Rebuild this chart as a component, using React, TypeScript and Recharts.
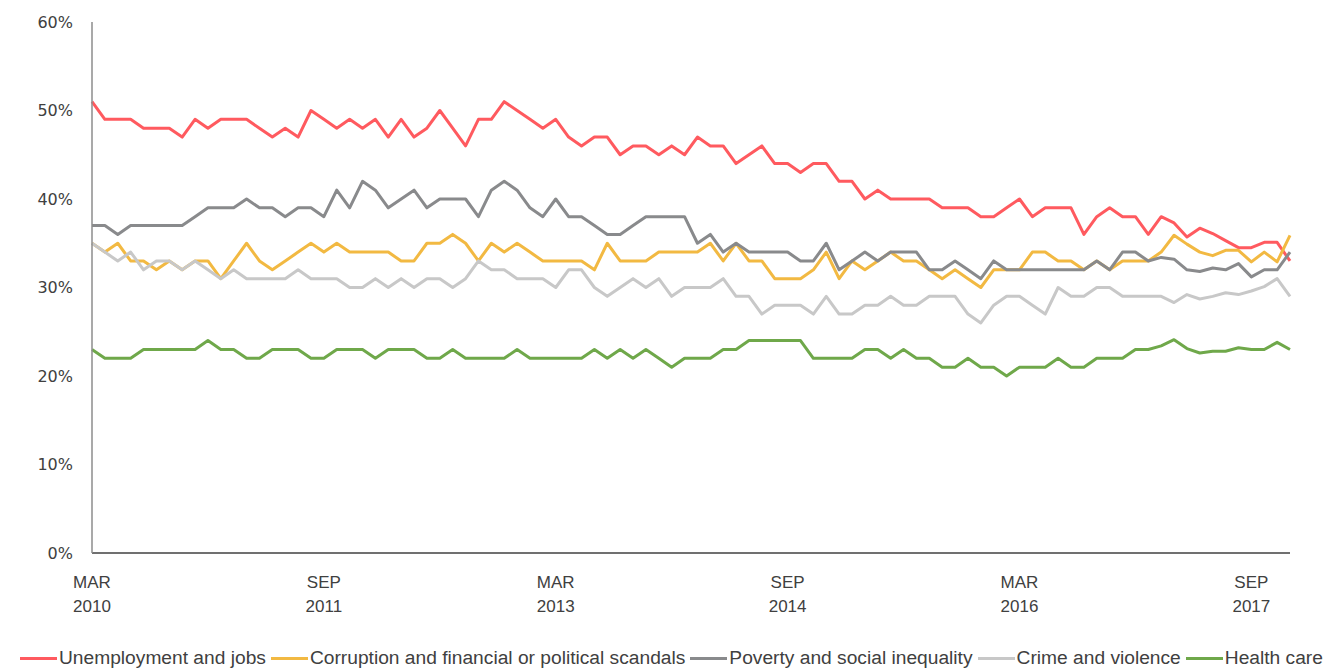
import React from "react";
import { LineChart, Line, XAxis, YAxis, Legend } from "recharts";

const months = [
  "Mar 2010","Apr 2010","May 2010","Jun 2010","Jul 2010","Aug 2010","Sep 2010","Oct 2010","Nov 2010","Dec 2010",
  "Jan 2011","Feb 2011","Mar 2011","Apr 2011","May 2011","Jun 2011","Jul 2011","Aug 2011","Sep 2011","Oct 2011","Nov 2011","Dec 2011",
  "Jan 2012","Feb 2012","Mar 2012","Apr 2012","May 2012","Jun 2012","Jul 2012","Aug 2012","Sep 2012","Oct 2012","Nov 2012","Dec 2012",
  "Jan 2013","Feb 2013","Mar 2013","Apr 2013","May 2013","Jun 2013","Jul 2013","Aug 2013","Sep 2013","Oct 2013","Nov 2013","Dec 2013",
  "Jan 2014","Feb 2014","Mar 2014","Apr 2014","May 2014","Jun 2014","Jul 2014","Aug 2014","Sep 2014","Oct 2014","Nov 2014","Dec 2014",
  "Jan 2015","Feb 2015","Mar 2015","Apr 2015","May 2015","Jun 2015","Jul 2015","Aug 2015","Sep 2015","Oct 2015","Nov 2015","Dec 2015",
  "Jan 2016","Feb 2016","Mar 2016","Apr 2016","May 2016","Jun 2016","Jul 2016","Aug 2016","Sep 2016","Oct 2016","Nov 2016","Dec 2016",
  "Jan 2017","Feb 2017","Mar 2017","Apr 2017","May 2017","Jun 2017","Jul 2017","Aug 2017","Sep 2017","Oct 2017","Nov 2017","Dec 2017",
];

const tickLabels = ["Mar 2010", "Sep 2011", "Mar 2013", "Sep 2014", "Mar 2016", "Sep 2017"];
const yTicks = [0, 10, 20, 30, 40, 50, 60];

const unemployment = [
  51,49,49,49,48,48,48,47,49,48,49,49,49,48,47,48,
  47,50,49,48,49,48,49,47,49,47,48,50,48,46,49,49,
  51,50,49,48,49,47,46,47,47,45,46,46,45,46,45,
  47,46,46,44,45,46,44,44,43,44,44,42,42,40,41,40,
  40,40,40,39,39,39,38,38,39,40,38,39,39,39,36,38,
  39,38,38,36,38,37.3,35.7,36.7,36.1,35.3,34.5,34.5,35.1,35.1,33,
];
const corruption = [
  35,34,35,33,33,32,33,32,33,33,31,33,35,33,32,33,
  34,35,34,35,34,34,34,34,33,33,35,35,36,35,33,35,
  34,35,34,33,33,33,33,32,35,33,33,33,34,34,34,
  34,35,33,35,33,33,31,31,31,32,34,31,33,32,33,34,
  33,33,32,31,32,31,30,32,32,32,34,34,33,33,32,33,
  32,33,33,33,34,35.9,34.9,34,33.6,34.2,34.2,32.9,34,32.9,35.9,
];
const poverty = [
  37,37,36,37,37,37,37,37,38,39,39,39,40,39,39,38,
  39,39,38,41,39,42,41,39,40,41,39,40,40,40,38,41,
  42,41,39,38,40,38,38,37,36,36,37,38,38,38,38,
  35,36,34,35,34,34,34,34,33,33,35,32,33,34,33,34,
  34,34,32,32,33,32,31,33,32,32,32,32,32,32,32,33,
  32,34,34,33,33.4,33.2,32,31.8,32.2,32,32.7,31.2,32,32,34,
];
const crime = [
  35,34,33,34,32,33,33,32,33,32,31,32,31,31,31,31,
  32,31,31,31,30,30,31,30,31,30,31,31,30,31,33,32,
  32,31,31,31,30,32,32,30,29,30,31,30,31,29,30,
  30,30,31,29,29,27,28,28,28,27,29,27,27,28,28,29,
  28,28,29,29,29,27,26,28,29,29,28,27,30,29,29,30,
  30,29,29,29,29,28.3,29.2,28.7,29,29.4,29.2,29.6,30.1,31,29,
];
const health = [
  23,22,22,22,23,23,23,23,23,24,23,23,22,22,23,23,
  23,22,22,23,23,23,22,23,23,23,22,22,23,22,22,22,
  22,23,22,22,22,22,22,23,22,23,22,23,22,21,22,
  22,22,23,23,24,24,24,24,24,22,22,22,22,23,23,22,
  23,22,22,21,21,22,21,21,20,21,21,21,22,21,21,22,
  22,22,23,23,23.4,24.1,23.1,22.6,22.8,22.8,23.2,23,23,23.8,23,
];

const seriesNames = [
  "Unemployment and jobs",
  "Corruption and financial or political scandals",
  "Poverty and social inequality",
  "Crime and violence",
  "Health care",
];
const seriesKeys = ["unemployment", "corruption", "poverty", "crime", "health"];
const seriesColors = ["#FF5A5F", "#F2B942", "#898A8C", "#C8C8C8", "#6FA84A"];

const data = months.map((m, i) => ({
  month: m,
  unemployment: unemployment[i],
  corruption: corruption[i],
  poverty: poverty[i],
  crime: crime[i],
  health: health[i],
}));

const SANS = "'Liberation Sans', Arial, sans-serif";

const XTick = (props: any) => {
  const { x, y, payload } = props;
  const [mon, yr] = String(payload.value).split(" ");
  return (
    <text x={x} y={y} textAnchor="middle" fontFamily={SANS} fontSize={17} fill="#404040">
      <tspan x={x} dy={35}>{mon.toUpperCase()}</tspan>
      <tspan x={x} dy={23.5}>{yr}</tspan>
    </text>
  );
};

const LegendContent = () => (
  <div
    style={{
      display: "flex",
      alignItems: "center",
      height: 22,
      paddingLeft: 20,
      whiteSpace: "nowrap",
      fontFamily: SANS,
      fontSize: 19.2,
      color: "#404040",
      lineHeight: "22px",
    }}
  >
    {seriesNames.map((n, i) => (
      <div key={n} style={{ display: "flex", alignItems: "center", marginRight: 5 }}>
        <div style={{ width: 37, height: 3, background: seriesColors[i], marginRight: 2 }} />
        <span>{n}</span>
      </div>
    ))}
  </div>
);

export default function App() {
  return (
    <div style={{ position: "absolute", left: 0, top: 0, background: "#fff" }}>
      <LineChart
        width={1341}
        height={669}
        data={data}
        margin={{ top: 22, right: 51, bottom: 0, left: 0 }}
      >
        <XAxis
          dataKey="month"
          ticks={tickLabels}
          interval={0}
          tick={<XTick />}
          tickLine={false}
          tickSize={0}
          tickMargin={0}
          height={94}
          axisLine={{ stroke: "#404040", strokeWidth: 1.3 }}
        />
        <YAxis
          width={92}
          domain={[0, 60]}
          ticks={yTicks}
          interval={0}
          tickFormatter={(v: number) => `${v}%`}
          tick={{ fontFamily: "'DejaVu Sans', sans-serif", fontSize: 16, fill: "#404040" }}
          tickLine={false}
          tickSize={0}
          tickMargin={19}
          axisLine={{ stroke: "#8C8C8C", strokeWidth: 1.5 }}
        />
        <Legend verticalAlign="bottom" align="left" content={<LegendContent />} wrapperStyle={{ left: 0, width: 1341 }} />
        {seriesKeys.map((k, i) => (
          <Line
            key={k}
            type="linear"
            dataKey={k}
            name={seriesNames[i]}
            stroke={seriesColors[i]}
            strokeWidth={3}
            dot={false}
            activeDot={false}
            strokeLinejoin="round"
            isAnimationActive={false}
          />
        ))}
      </LineChart>
    </div>
  );
}
